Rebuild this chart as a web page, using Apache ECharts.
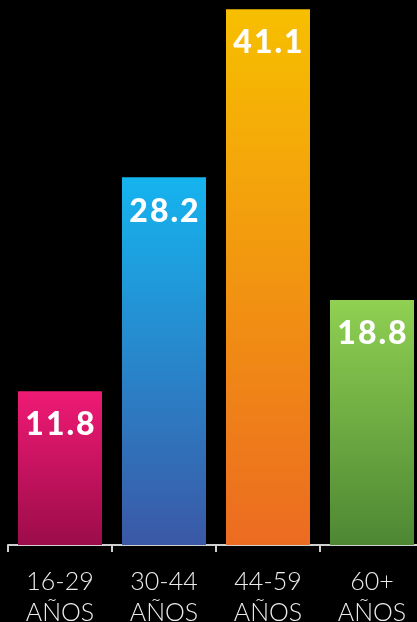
<!DOCTYPE html>
<html>
<head>
<meta charset="utf-8">
<script src="https://cdn.jsdelivr.net/npm/echarts@6/dist/echarts.min.js"></script>
<style>
  html, body { margin: 0; padding: 0; background: #000; }
  #chart { width: 417px; height: 622px; }
</style>
</head>
<body>
<div id="chart"></div>
<script>
// datos
const categories = ['16-29\nAÑOS', '30-44\nAÑOS', '44-59\nAÑOS', '60+\nAÑOS'];
const values = [11.8, 28.2, 41.1, 18.8];
// colores degradados (arriba, abajo)
const barColors = [
  ['#EF1A74', '#9C0C4A'],
  ['#15B4EF', '#3B58A6'],
  ['#F7BF00', '#EC6B21'],
  ['#90D052', '#4E8733']
];

const chart = echarts.init(document.getElementById('chart'));

const option = {
  backgroundColor: '#000',
  animation: false,
  grid: { left: 8, right: -7, top: 0, bottom: 77, outerBoundsMode: 'none', containLabel: false },
  xAxis: {
    type: 'category',
    data: categories,
    axisLine: { lineStyle: { color: '#cfcfcf', width: 2 } },
    axisTick: { show: true, length: 7, lineStyle: { color: '#cfcfcf', width: 2 } },
    axisLabel: {
      color: '#ececec',
      fontFamily: 'Lato',
      fontWeight: 300,
      fontSize: 25,
      lineHeight: 31,
      margin: 21
    }
  },
  yAxis: {
    type: 'value',
    min: 0,
    max: 41.8,
    show: false,
    splitLine: { show: false }
  },
  series: [{
    type: 'bar',
    barWidth: 84,
    data: values.map((v, i) => ({
      value: v,
      itemStyle: {
        color: new echarts.graphic.LinearGradient(0, 0, 0, 1, [
          { offset: 0, color: barColors[i][0] },
          { offset: 1, color: barColors[i][1] }
        ])
      }
    })),
    label: {
      show: true,
      position: 'insideTop',
      distance: 18,
      color: '#fff',
      fontFamily: 'Lato',
      fontWeight: 900,
      fontSize: 32,
      // espaciado entre letras con hair space
      formatter: p => p.value.toFixed(1).split('').join('\u200A')
    }
  }]
};

chart.setOption(option);
</script>
</body>
</html>
